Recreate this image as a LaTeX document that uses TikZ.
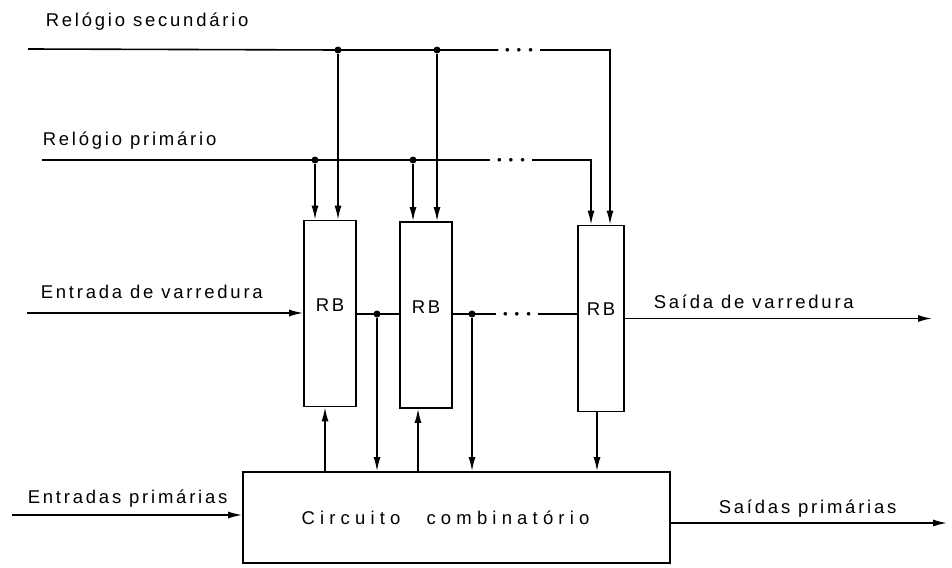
\documentclass[tikz,border=0pt]{standalone}
\usepackage{fontspec}
\setmainfont{Liberation Sans}[LetterSpace=15]
\usetikzlibrary{arrows.meta}

\newcommand{\tres}{$\bullet$\hspace{7pt}$\bullet$\hspace{7pt}$\bullet$}

\begin{document}
\begin{tikzpicture}[x=1pt,y=-1pt,line width=1.6pt,
  >={Latex[length=14pt,width=7pt]},
  lbl/.style={anchor=base west,inner sep=0pt,font=\fontsize{18.5}{20}\selectfont},
  rbbox/.style={draw,minimum width=52pt,minimum height=186pt,inner sep=0pt,font=\fontsize{18.5}{20}\selectfont},
  junct/.style={circle,fill,inner sep=0pt,minimum size=7pt},
  gap/.style={inner xsep=6pt,inner ysep=0pt,font=\fontsize{9}{9}\selectfont}]
\useasboundingbox (0,0) rectangle (952,567);

% registradores e circuito
\node[rbbox] (rb1) at (330,313.5) {\raisebox{2pt}[0pt][0pt]{RB}};
\node[rbbox] (rb2) at (426,315) {\raisebox{2pt}[0pt][0pt]{RB}};
\node[rbbox,minimum width=46pt] (rb3) at (601,318.5) {\raisebox{3pt}[0pt][0pt]{RB}};
\node[draw,minimum width=427pt,minimum height=91pt,
  font=\fontsize{18.5}{20}\selectfont\addfontfeature{LetterSpace=28}] (cc) at (456.5,517.5)
  {Circuito\hspace{26pt}combinatório\hspace*{22pt}};

% rotulos
\node[lbl] (tsec) at (45,27) {Relógio secundário};
\node[lbl] (tpri) at (42,146) {Relógio primário};
\node[lbl] (tvin) at (40,298) {Entrada de varredura};
\node[lbl] (tvout) at (653,308) {Saída de varredura};
\node[lbl] (tpin) at (27,503) {Entradas primárias};
\node[lbl] (tpout) at (718,513) {Saídas primárias};

% relogio secundario
\coordinate (secL) at (28,49);
\node[junct] (s1) at (338,50) {};
\node[junct] (s2) at (437,50) {};
\node[gap] (sdots) at (519,50) {\tres};
\coordinate (s3) at (610,50);
\draw (secL) -- (s1.center) -- (s2.center) -- (sdots.west);
\draw[->] (sdots.east) -- (s3) -- (s3 |- rb3.north);
\draw[->] (s1) -- (s1 |- rb1.north);
\draw[->] (s2) -- (s2 |- rb2.north);

% relogio primario
\coordinate (priL) at (42,160);
\node[junct] (p1) at (315,160) {};
\node[junct] (p2) at (413,160) {};
\node[gap] (pdots) at (511,160) {\tres};
\coordinate (p3) at (591,160);
\draw (priL) -- (p1.center) -- (p2.center) -- (pdots.west);
\draw[->] (pdots.east) -- (p3) -- (p3 |- rb3.north);
\draw[->] (p1) -- (p1 |- rb1.north);
\draw[->] (p2) -- (p2 |- rb2.north);

% cadeia de varredura
\coordinate (scanL) at (27,313);
\coordinate (scanR) at (932,318.5);
\node[junct] (q1) at (377,314) {};
\node[junct] (q2) at (472,314) {};
\node[gap] (qdots) at (517,314) {\tres};
\draw[->] (scanL) -- (scanL -| rb1.west);
\draw (q1 -| rb1.east) -- (q1.center) -- (q1 -| rb2.west);
\draw (q2 -| rb2.east) -- (q2.center) -- (qdots.west);
\draw (qdots.east) -- (qdots -| rb3.west);
\draw[->] (scanR -| rb3.east) -- (scanR);
\draw[->] (q1) -- (q1 |- cc.north);
\draw[->] (q2) -- (q2 |- cc.north);

% ligacoes com o circuito
\draw[->] ([xshift=-5pt]rb1.south |- cc.north) -- ([xshift=-5pt]rb1.south);
\draw[->] ([xshift=-8pt]rb2.south |- cc.north) -- ([xshift=-8pt]rb2.south);
\draw[->] ([xshift=-4pt]rb3.south) -- ([xshift=-4pt]rb3.south |- cc.north);

% entradas e saidas primarias
\coordinate (inL) at (12,515);
\coordinate (outR) at (947,523);
\draw[->] (inL) -- (inL -| cc.west);
\draw[->] (cc.east |- outR) -- (outR);
\end{tikzpicture}
\end{document}
